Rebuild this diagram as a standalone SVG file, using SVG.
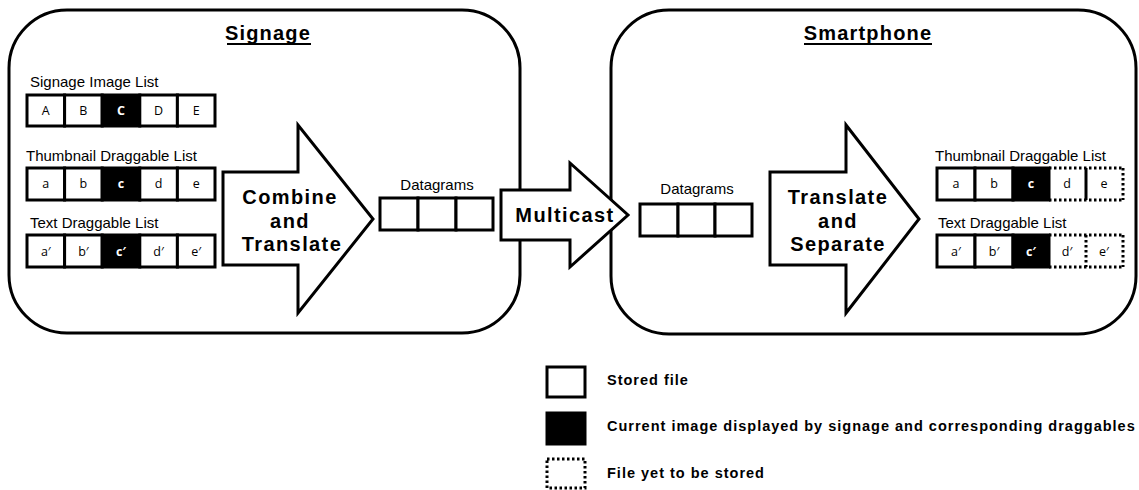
<svg xmlns="http://www.w3.org/2000/svg" width="1139" height="490" viewBox="0 0 1139 490">
<style>
.cont{fill:#fff;stroke:#000;stroke-width:3}
.title{font-family:"Liberation Sans",Arial,sans-serif;font-weight:bold;font-size:20px;letter-spacing:1.2px;text-anchor:middle}
.lbl{font-family:"Liberation Sans",Arial,sans-serif;font-size:15px}
.cell{fill:#fff;stroke:#000;stroke-width:3}
.blk{fill:#000;stroke:#000;stroke-width:3}
.dot{fill:none;stroke:#000;stroke-width:3;stroke-dasharray:2.5 2.5}
.ct{font-family:"Open Sans","Liberation Sans",sans-serif;font-size:12.5px;text-anchor:middle;fill:#000}
.cw{font-family:"Open Sans","Liberation Sans",sans-serif;font-size:12.5px;font-weight:bold;text-anchor:middle;fill:#fff}
.arr{fill:#fff;stroke:#000;stroke-width:3;stroke-linejoin:miter}
.at{font-family:"Liberation Sans",Arial,sans-serif;font-weight:bold;font-size:20px;letter-spacing:1.4px;text-anchor:middle}
.leg{font-family:"Liberation Sans",Arial,sans-serif;font-weight:bold;font-size:14.5px;letter-spacing:1px}
</style>

<g id="signage">
<rect class="cont" x="9" y="10" width="511" height="323" rx="58"/>
<text class="title" x="268" y="40">Signage</text>
<line x1="227" y1="44" x2="311" y2="44" stroke="#000" stroke-width="2"/>
</g>

<g id="smartphone">
<rect class="cont" x="611" y="10" width="525" height="324" rx="58"/>
<text class="title" x="868" y="40">Smartphone</text>
<line x1="804" y1="44" x2="932" y2="44" stroke="#000" stroke-width="2"/>
</g>

<g id="signage-image-list">
<text class="lbl" x="30" y="87">Signage Image List</text>
<rect class="cell" x="27" y="95" width="37.6" height="31"/>
<rect class="cell" x="64.6" y="95" width="37.6" height="31"/>
<rect class="blk" x="102.2" y="95" width="37.6" height="31"/>
<rect class="cell" x="139.8" y="95" width="37.6" height="31"/>
<rect class="cell" x="177.4" y="95" width="37.6" height="31"/>
<text class="ct" x="45.8" y="115">A</text>
<text class="ct" x="83.4" y="115">B</text>
<text class="cw" x="121" y="115">C</text>
<text class="ct" x="158.6" y="115">D</text>
<text class="ct" x="196.2" y="115">E</text>
</g>

<g id="signage-thumbnail-list">
<text class="lbl" x="26" y="161">Thumbnail Draggable List</text>
<rect class="cell" x="27" y="168" width="37.6" height="32"/>
<rect class="cell" x="64.6" y="168" width="37.6" height="32"/>
<rect class="blk" x="102.2" y="168" width="37.6" height="32"/>
<rect class="cell" x="139.8" y="168" width="37.6" height="32"/>
<rect class="cell" x="177.4" y="168" width="37.6" height="32"/>
<text class="ct" x="45.8" y="188">a</text>
<text class="ct" x="83.4" y="188">b</text>
<text class="cw" x="121" y="188">c</text>
<text class="ct" x="158.6" y="188">d</text>
<text class="ct" x="196.2" y="188">e</text>
</g>

<g id="signage-text-list">
<text class="lbl" x="30" y="228">Text Draggable List</text>
<rect class="cell" x="27" y="235" width="37.6" height="32"/>
<rect class="cell" x="64.6" y="235" width="37.6" height="32"/>
<rect class="blk" x="102.2" y="235" width="37.6" height="32"/>
<rect class="cell" x="139.8" y="235" width="37.6" height="32"/>
<rect class="cell" x="177.4" y="235" width="37.6" height="32"/>
<text class="ct" x="45.8" y="256">a′</text>
<text class="ct" x="83.4" y="256">b′</text>
<text class="cw" x="121" y="256">c′</text>
<text class="ct" x="158.6" y="256">d′</text>
<text class="ct" x="196.2" y="256">e′</text>
</g>

<g id="combine-translate">
<polygon class="arr" points="223,172 298,172 298,125 373,219 298,313 298,265 223,265"/>
<text class="at" x="290" y="204">Combine</text>
<text class="at" x="290" y="228">and</text>
<text class="at" x="292" y="251">Translate</text>
</g>

<g id="datagrams-signage">
<text class="lbl" x="437" y="190" text-anchor="middle">Datagrams</text>
<rect class="cell" x="380" y="198" width="38" height="32"/>
<rect class="cell" x="418" y="198" width="38" height="32"/>
<rect class="cell" x="456" y="198" width="37" height="32"/>
</g>

<g id="datagrams-smartphone">
<text class="lbl" x="697" y="194" text-anchor="middle">Datagrams</text>
<rect class="cell" x="640" y="204" width="38" height="32"/>
<rect class="cell" x="678" y="204" width="37" height="32"/>
<rect class="cell" x="715" y="204" width="37" height="32"/>
</g>

<g id="translate-separate">
<polygon class="arr" points="770,172 846,172 846,125 919,219 846,313 846,265 770,265"/>
<text class="at" x="838" y="204">Translate</text>
<text class="at" x="838" y="228">and</text>
<text class="at" x="838" y="251">Separate</text>
</g>

<g id="smartphone-thumbnail-list">
<text class="lbl" x="935" y="161">Thumbnail Draggable List</text>
<rect class="cell" x="937" y="168" width="38" height="32"/>
<rect class="cell" x="975" y="168" width="38" height="32"/>
<rect class="blk" x="1013" y="168" width="36" height="32"/>
<line class="dot" x1="1049" y1="168" x2="1123" y2="168"/>
<line class="dot" x1="1049" y1="200" x2="1123" y2="200"/>
<line class="dot" x1="1123" y1="168" x2="1123" y2="200"/>
<line x1="1086" y1="168" x2="1086" y2="200" stroke="#000" stroke-width="3"/>
<text class="ct" x="956" y="188">a</text>
<text class="ct" x="994" y="188">b</text>
<text class="cw" x="1031" y="188">c</text>
<text class="ct" x="1067" y="188">d</text>
<text class="ct" x="1104" y="188">e</text>
</g>

<g id="smartphone-text-list">
<text class="lbl" x="938" y="228">Text Draggable List</text>
<rect class="cell" x="937" y="235" width="38" height="32"/>
<rect class="cell" x="975" y="235" width="38" height="32"/>
<rect class="blk" x="1013" y="235" width="36" height="32"/>
<line class="dot" x1="1049" y1="235" x2="1123" y2="235"/>
<line class="dot" x1="1049" y1="267" x2="1123" y2="267"/>
<line class="dot" x1="1123" y1="235" x2="1123" y2="267"/>
<line class="dot" x1="1086" y1="235" x2="1086" y2="267"/>
<text class="ct" x="956" y="256">a′</text>
<text class="ct" x="994" y="256">b′</text>
<text class="cw" x="1031" y="256">c′</text>
<text class="ct" x="1067" y="256">d′</text>
<text class="ct" x="1104" y="256">e′</text>
</g>

<g id="connectors">
<g id="multicast">
<polygon class="arr" points="501,190 570,190 570,163 628,215 570,267 570,240 501,240"/>
<text class="at" x="565" y="222">Multicast</text>
</g>
</g>

<g id="legend">
<g id="legend-stored">
<rect class="cell" x="547" y="367" width="38" height="30"/>
<text class="leg" x="607" y="385">Stored file</text>
</g>
<g id="legend-current">
<rect class="blk" x="547" y="413" width="38" height="31"/>
<text class="leg" x="607" y="431">Current image displayed by signage and corresponding draggables</text>
</g>
<g id="legend-pending">
<rect class="dot" x="547" y="459" width="38" height="29"/>
<text class="leg" x="607" y="478">File yet to be stored</text>
</g>
</g>
</svg>
